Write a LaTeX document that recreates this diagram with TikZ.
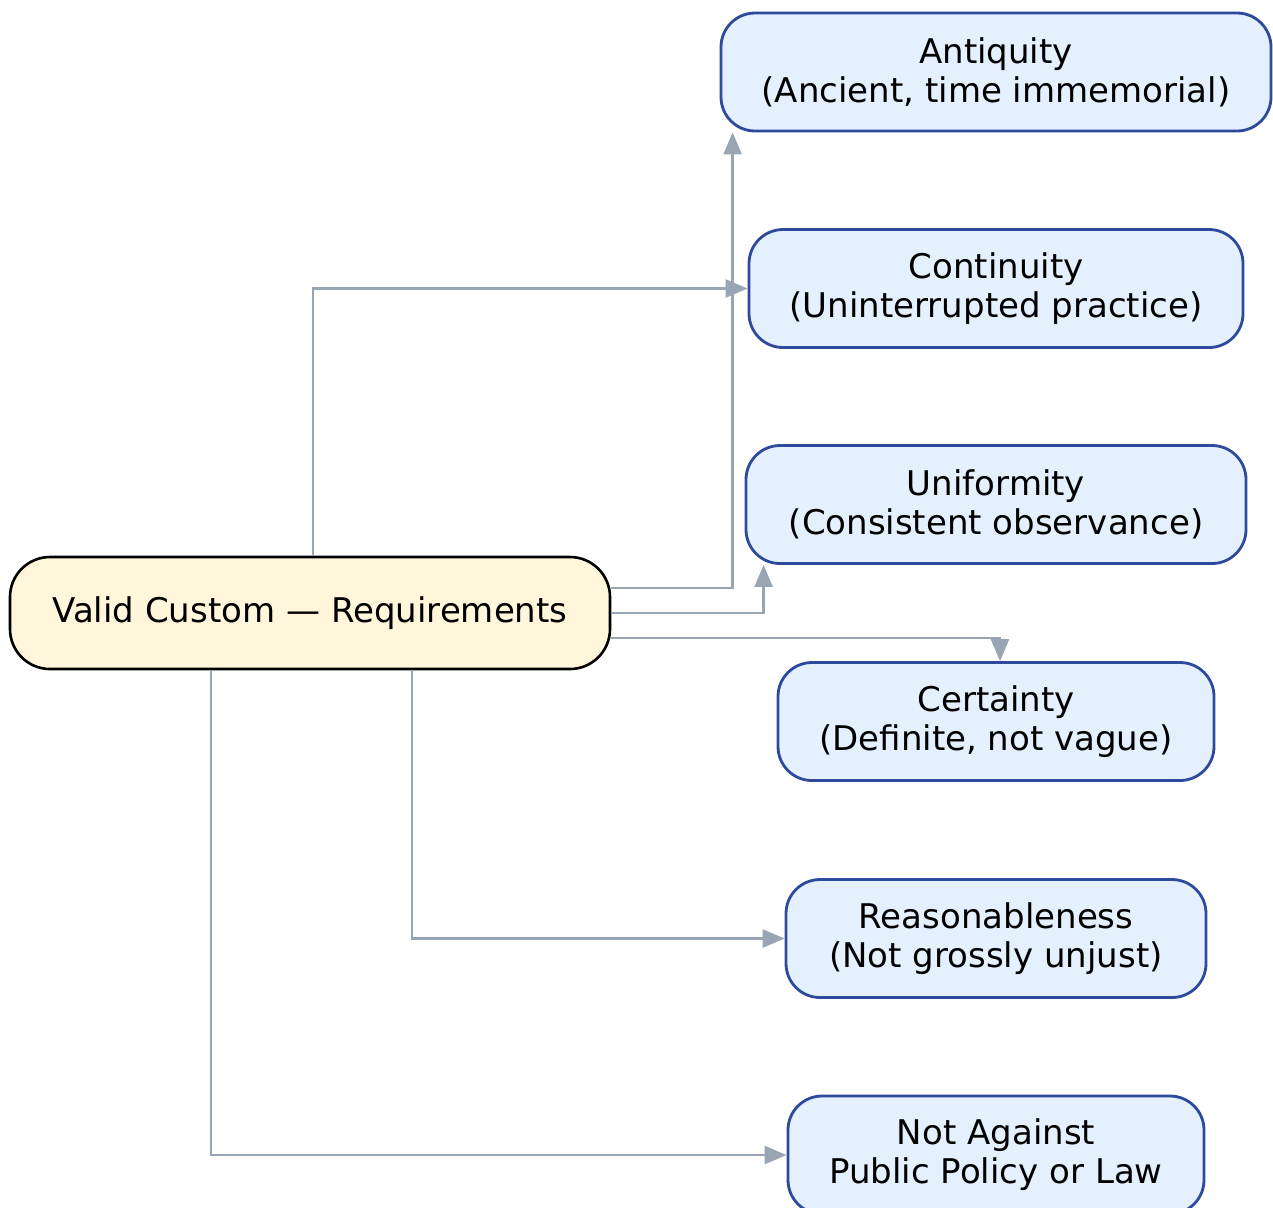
\documentclass[tikz,border=0pt]{standalone}
\usepackage{fontspec}
\setmainfont{DejaVu Sans}
\usetikzlibrary{arrows.meta}
\definecolor{conncol}{HTML}{9AA5B4}
\definecolor{boxfill}{HTML}{E4F0FD}
\definecolor{boxdraw}{HTML}{2D4A9C}
\definecolor{mainfill}{HTML}{FFF6DB}
\tikzset{
  reqbox/.style={draw=boxdraw, fill=boxfill, line width=1.4pt, rounded corners=17pt,
    minimum height=59pt, inner sep=0pt, align=center, font=\fontsize{17}{19.5}\selectfont},
  mainbox/.style={draw=black, fill=mainfill, line width=1.3pt, rounded corners=20pt,
    minimum width=300pt, minimum height=56pt, inner sep=0pt, align=center, font=\fontsize{17}{19.5}\selectfont},
  conn/.style={draw=conncol, line width=1.3pt, -{Triangle[length=11pt,width=9pt]}}
}
\begin{document}
\begin{tikzpicture}[x=0.5pt,y=-0.5pt]
\useasboundingbox (0,0) rectangle (1273,1207);
\node[mainbox] (main) at (310,613) {Valid Custom — Requirements};
\node[reqbox, minimum width=275pt] (anti) at (996,72) {Antiquity\\(Ancient, time immemorial)};
\node[reqbox, minimum width=247pt] (cont) at (996,288.5) {Continuity\\(Uninterrupted practice)};
\node[reqbox, minimum width=250pt] (unif) at (996,504.5) {Uniformity\\(Consistent observance)};
\node[reqbox, minimum width=218pt] (cert) at (996,721.5) {Certainty\\(Definite, not vague)};
\node[reqbox, minimum width=210pt] (reas) at (996,938.5) {Reasonableness\\(Not grossly unjust)};
\node[reqbox, minimum width=208pt] (nota) at (996,1155) {Not Against\\Public Policy or Law};
\draw[conn] ([yshift=12.5pt]main.east) -| ([xshift=6.5pt]anti.south west);
\draw[conn] ([xshift=1.5pt]main.north) |- (cont.west);
\draw[conn] (main.east) -| ([xshift=9.5pt]unif.south west);
\draw[conn] ([yshift=-12.5pt]main.east) -| ([xshift=2pt]cert.north);
\draw[conn] ([xshift=51pt]main.south) |- (reas.west);
\draw[conn] ([xshift=-49.5pt]main.south) |- (nota.west);
\end{tikzpicture}
\end{document}
